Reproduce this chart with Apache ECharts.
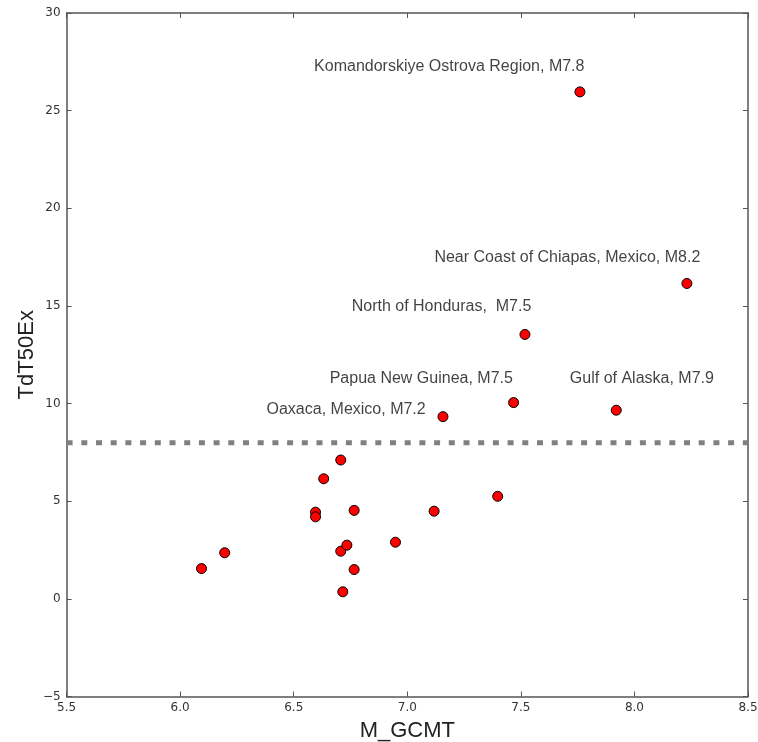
<!DOCTYPE html>
<html><head><meta charset="utf-8">
<script src="https://cdn.jsdelivr.net/npm/echarts@6/dist/echarts.min.js"></script>
<style>html,body{margin:0;padding:0;background:#fff}#c{width:758px;height:742px}</style>
</head><body><div id="c"></div>
<script>
// Data
const magnitude = [6.094, 6.196, 6.596, 6.596, 6.632, 6.707, 6.766, 6.707, 6.734, 6.766, 6.716, 6.948, 7.118, 7.398, 7.157, 7.468, 7.518, 7.76, 7.92, 8.231];
const tdt50ex   = [1.55, 2.36, 4.44, 4.20, 6.15, 7.11, 4.53, 2.44, 2.75, 1.50, 0.36, 2.90, 4.49, 5.25, 9.33, 10.05, 13.54, 25.96, 9.66, 16.15];
const threshold = 8;
// Annotation texts and their anchor (right end of text) in data coordinates
const annText = ["Komandorskiye Ostrova Region, M7.8", "Near Coast of Chiapas, Mexico, M8.2", "North of Honduras,  M7.5", "Papua New Guinea, M7.5", "Gulf of Alaska, M7.9", "Oaxaca, Mexico, M7.2"];
const annX = [7.78, 8.29, 7.546, 7.465, 8.35, 7.081];
const annY = [27.25, 17.5, 14.95, 11.28, 11.28, 9.69];
const xTicks = [5.5, 6.0, 6.5, 7.0, 7.5, 8.0, 8.5];
const yTicks = [-5, 0, 5, 10, 15, 20, 25, 30];

const chart = echarts.init(document.getElementById('c'), null, {renderer: 'canvas'});
const FONT = 'Liberation Sans, Arial, sans-serif';
const TICKFONT = 'DejaVu Sans, sans-serif';
const axisCol = '#555';
const baseAxis = {
  axisLine: {show: true, onZero: false, lineStyle: {color: axisCol, width: 1.5}},
  axisTick: {show: true, inside: true, length: 5, lineStyle: {color: axisCol, width: 1}},
  splitLine: {show: false}
};
const fmt = v => String(v).replace('-', '\u2212');
chart.setOption({
  animation: false,
  grid: {left: 66.6, right: 10, top: 13, bottom: 45.5, containLabel: false, outerBoundsMode: 'none'},
  xAxis: [
    Object.assign({}, baseAxis, {type: 'value', min: xTicks[0], max: xTicks[xTicks.length-1], interval: 0.5, position: 'bottom',
      name: 'M_GCMT', nameLocation: 'middle', nameGap: 23, nameMoveOverlap: false, nameTextStyle: {fontFamily: FONT, fontSize: 22, color: '#222'},
      axisLabel: {fontFamily: TICKFONT, fontSize: 12, color: '#333', margin: 5, formatter: v => v.toFixed(1)}}),
    Object.assign({}, baseAxis, {type: 'value', min: xTicks[0], max: xTicks[xTicks.length-1], interval: 0.5, position: 'top',
      axisLabel: {show: false}})
  ],
  yAxis: [
    Object.assign({}, baseAxis, {type: 'value', min: yTicks[0], max: yTicks[yTicks.length-1], interval: 5, position: 'left',
      name: 'TdT50Ex', nameLocation: 'middle', nameGap: 29, nameMoveOverlap: false, nameTextStyle: {fontFamily: FONT, fontSize: 22, color: '#222'},
      axisLabel: {fontFamily: TICKFONT, fontSize: 12, color: '#333', margin: 6, formatter: fmt}}),
    Object.assign({}, baseAxis, {type: 'value', min: yTicks[0], max: yTicks[yTicks.length-1], interval: 5, position: 'right',
      axisLabel: {show: false}})
  ],
  series: [
    {
      type: 'line', xAxisIndex: 0, yAxisIndex: 0, symbol: 'none', silent: true, z: 1,
      data: [[xTicks[0], threshold], [xTicks[xTicks.length-1], threshold]],
      lineStyle: {color: '#808080', width: 5, type: [6, 8.7], cap: 'butt'}
    },
    {
      type: 'scatter', xAxisIndex: 0, yAxisIndex: 0, symbol: 'circle', symbolSize: 10, z: 3,
      data: magnitude.map((m, i) => [m, tdt50ex[i]]),
      itemStyle: {color: '#ff0000', borderColor: '#000', borderWidth: 1, opacity: 1}
    },
    {
      type: 'scatter', xAxisIndex: 0, yAxisIndex: 0, symbolSize: 0, silent: true, z: 4,
      data: annText.map((t, i) => ({value: [annX[i], annY[i]], name: t})),
      label: {show: true, position: 'left', distance: 0, align: 'right', verticalAlign: 'middle',
        formatter: p => p.name, fontFamily: FONT, fontSize: 16, color: '#111'}
    }
  ]
});
</script></body></html>
